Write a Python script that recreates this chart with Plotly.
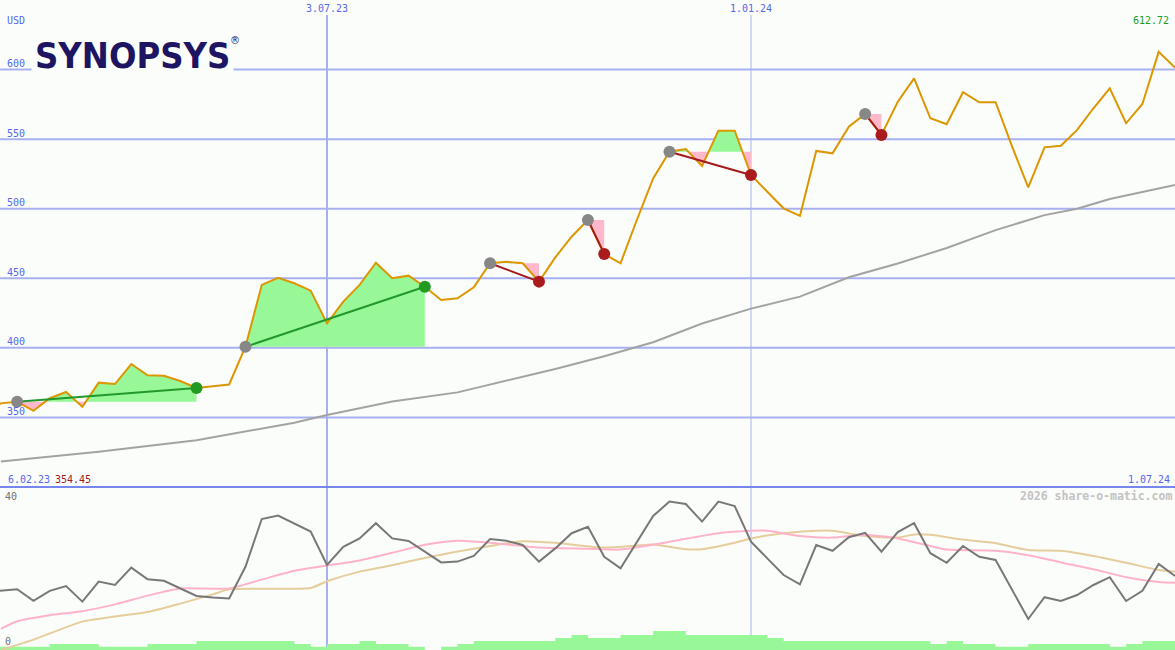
import pandas as pd
import plotly.graph_objects as go

# ---------------- data ----------------
weeks = pd.date_range("2023-02-06", periods=74, freq="7D")  # 6.02.23 ... 1.07.24

price = [354.45,
         360.1, 361.3, 354.8, 363.8, 368.3, 357.7, 375.0, 374.0, 388.4, 380.3,
         380.0, 376.2, 371.2, 372.4, 373.7, 400.8, 445.2, 450.4, 446.4, 441.1,
         417.6, 433.2, 445.2, 461.2, 450.0, 451.9, 443.9, 434.4, 435.6, 443.5,
         460.8, 461.9, 460.8, 447.6, 465.0, 479.9, 491.9, 467.5, 460.8, 491.9,
         521.8, 541.0, 542.9, 530.7, 556.1, 556.1, 524.2, 512.2, 500.3, 494.8,
         541.5, 539.8, 558.9, 568.1, 553.0, 576.9, 593.7, 565.0, 560.7, 583.7,
         576.5, 576.5, 545.0, 515.4, 544.1, 545.3, 556.6, 572.2, 586.5, 561.4,
         575.3, 612.72, 601.4]

# long moving average (grey), read at selected weeks (index into weeks)
ma_idx = [1, 7, 13, 19, 21, 25, 29, 32, 35, 38, 41, 44, 47, 50, 53, 56, 59, 62, 65, 67, 69, 73]
ma_val = [318.3, 325.3, 333.6, 346.2, 351.7, 361.5, 368.0, 376.5, 384.8, 394.0, 404.0,
          417.5, 428.2, 436.8, 450.7, 460.6, 471.8, 484.6, 495.4, 500.0, 507.0, 517.0]

# trades: (entry week index, exit week index, win?)
trade_in = [2, 16, 31, 37, 42, 54]
trade_out = [13, 27, 34, 38, 47, 55]
trade_win = [True, True, False, False, False, False]

# lower panel
osc = [14.5,
       14.8, 15.2, 12.3, 14.8, 16.0, 12.1, 17.1, 16.25, 20.6, 17.7,
       17.3, 15.4, 13.5, 13.1, 12.9, 20.8, 32.75, 33.6, 31.7, 29.6,
       21.25, 25.8, 27.9, 31.7, 27.9, 27.25, 24.6, 21.9, 22.1, 23.5,
       27.75, 27.3, 26.25, 22.1, 25.4, 29.2, 30.8, 23.3, 20.4, 27.1,
       33.5, 37.1, 36.5, 32.1, 37.1, 36.0, 27.1, 22.9, 18.75, 16.4,
       26.25, 24.8, 28.2, 29.3, 24.6, 29.5, 31.7, 24.2, 21.8, 26.0,
       23.3, 22.5, 15.0, 7.75, 13.2, 12.25, 13.75, 16.25, 18.2, 12.25,
       14.8, 21.5, 18.5]

pink_idx = [1, 2, 4, 6, 8, 10, 12, 15, 17, 19, 21, 23, 25, 27, 29, 31, 34, 37, 39, 41,
            43, 45, 47, 48, 50, 52, 54, 56, 58, 59, 62, 64, 66, 68, 70, 72, 73]
pink_val = [5.3, 7.2, 8.7, 9.7, 11.4, 13.6, 15.4, 15.4, 17.6, 19.8, 21.1, 22.4, 24.3, 26.3,
            27.3, 26.8, 25.6, 25.3, 25.1, 26.3, 27.8, 29.2, 29.8, 29.8, 28.5, 28.1, 28.75,
            27.9, 26.0, 25.1, 24.8, 23.7, 21.9, 20.2, 18.2, 17.0, 16.8]

tan_idx = [1, 3, 6, 8, 10, 12, 14, 15, 20, 21, 23, 25, 27, 29, 31, 33, 35, 38, 40, 41,
           43, 44, 46, 47, 49, 51, 52, 54, 56, 57, 58, 60, 62, 64, 66, 68, 70, 72, 73]
tan_val = [0.0, 2.6, 7.1, 8.4, 9.5, 11.6, 13.9, 15.2, 15.5, 17.2, 19.6, 21.2, 23.0, 24.6,
           26.0, 27.2, 26.8, 25.6, 26.1, 26.4, 25.2, 25.2, 26.8, 27.9, 29.2, 29.8, 29.8,
           28.5, 28.1, 28.9, 28.8, 27.6, 26.7, 25.0, 24.8, 23.5, 21.8, 20.0, 19.6]

vol = [0.8,
       0.8, 0.8, 0.8, 1.5, 1.5, 1.5, 0.8, 0.8, 0.8, 1.5,
       1.5, 1.5, 2.25, 2.25, 2.25, 2.25, 2.25, 2.25, 1.5, 0.8,
       1.5, 1.5, 2.25, 1.5, 1.5, 0.8, 0.0, 0.8, 1.5, 2.25,
       2.25, 2.25, 2.25, 2.25, 3.0, 3.75, 3.0, 3.0, 3.75, 3.75,
       4.75, 4.75, 3.75, 3.75, 3.75, 3.75, 3.75, 3.0, 2.25, 2.25,
       2.25, 2.25, 2.25, 2.25, 2.25, 2.25, 2.25, 1.5, 2.25, 1.5,
       1.5, 0.8, 0.8, 1.5, 1.5, 1.5, 1.5, 1.5, 0.8, 1.5,
       2.25, 2.25, 2.25]

first_label = "6.02.23"
first_price = "354.45"
last_label = "1.07.24"
max_price = "612.72"
y_ticks = [350, 400, 450, 500, 550, 600]
v_dates = ["2023-07-03", "2024-01-01"]
v_labels = ["3.07.23", "1.01.24"]

# ---------------- style ----------------
W, H = 1175, 650
BG = "#fbfdfb"
GRID = "#a7b1f1"
BLUE_TXT = "#5468ee"
GREEN_F = "#98f898"
PINK_F = "#ffb8cc"
MONO = "DejaVu Sans Mono"


def py(y):
    return 1 - y / H


def px(x):
    return x / W


fig = go.Figure()

# trade fills
for a, b, win in zip(trade_in, trade_out, trade_win):
    base = price[a]
    xs, up, lo = [weeks[a]], [base], [base]
    for j in range(a, b):
        p0, p1 = price[j], price[j + 1]
        t0, t1 = weeks[j], weeks[j + 1]
        if (p0 - base) * (p1 - base) < 0:
            f = (base - p0) / (p1 - p0)
            xs.append(t0 + (t1 - t0) * f)
            up.append(base)
            lo.append(base)
        xs.append(t1)
        up.append(max(p1, base))
        lo.append(min(p1, base))
    fig.add_trace(go.Scatter(x=xs + xs[::-1], y=up + [base] * len(xs), fill="toself",
                             fillcolor=GREEN_F, line=dict(width=0), mode="lines",
                             hoverinfo="skip", showlegend=False))
    fig.add_trace(go.Scatter(x=xs + xs[::-1], y=lo + [base] * len(xs), fill="toself",
                             fillcolor=PINK_F, line=dict(width=0), mode="lines",
                             hoverinfo="skip", showlegend=False))

# moving average
fig.add_trace(go.Scatter(x=[weeks[i] for i in ma_idx], y=ma_val, mode="lines",
                         line=dict(color="#a3a3a3", width=2), showlegend=False))
# price
fig.add_trace(go.Scatter(x=weeks, y=price, mode="lines",
                         line=dict(color="#dc9600", width=2), showlegend=False))

# trade lines and dots
for a, b, win in zip(trade_in, trade_out, trade_win):
    col = "#22992a" if win else "#a31a1a"
    fig.add_trace(go.Scatter(x=[weeks[a], weeks[b]], y=[price[a], price[b]], mode="lines",
                             line=dict(color=col, width=2), showlegend=False))
for a, b, win in zip(trade_in, trade_out, trade_win):
    col = "#229a22" if win else "#aa1c1c"
    fig.add_trace(go.Scatter(x=[weeks[a]], y=[price[a]], mode="markers",
                             marker=dict(color="#878787", size=12), showlegend=False))
    fig.add_trace(go.Scatter(x=[weeks[b]], y=[price[b]], mode="markers",
                             marker=dict(color=col, size=12), showlegend=False))

# lower panel
fig.add_trace(go.Scatter(x=weeks, y=vol, mode="lines", line=dict(width=0, shape="hv"),
                         fill="tozeroy", fillcolor="#98f898", xaxis="x2", yaxis="y2",
                         showlegend=False))
fig.add_trace(go.Scatter(x=[weeks[i] for i in tan_idx], y=tan_val, mode="lines",
                         line=dict(color="#e6cd9c", width=2, shape="spline", smoothing=0.6),
                         xaxis="x2", yaxis="y2", showlegend=False))
fig.add_trace(go.Scatter(x=[weeks[i] for i in pink_idx], y=pink_val, mode="lines",
                         line=dict(color="#ffb3c9", width=2, shape="spline", smoothing=0.6),
                         xaxis="x2", yaxis="y2", showlegend=False))
fig.add_trace(go.Scatter(x=weeks, y=osc, mode="lines",
                         line=dict(color="#787878", width=2),
                         xaxis="x2", yaxis="y2", showlegend=False))

split = py(487)
xr = ["2023-02-12 15:21", "2024-07-01"]

shapes = []
for t in y_ticks:
    shapes.append(dict(type="line", xref="paper", yref="y", x0=0, x1=1, y0=t, y1=t,
                       line=dict(color=GRID, width=2), layer="below"))
shapes.append(dict(type="line", xref="x", yref="paper", x0=v_dates[0], x1=v_dates[0],
                   y0=0, y1=py(15), line=dict(color=GRID, width=2), layer="below"))
shapes.append(dict(type="line", xref="x", yref="paper", x0=v_dates[1], x1=v_dates[1],
                   y0=0, y1=py(15), line=dict(color=GRID, width=1), layer="below"))
shapes.append(dict(type="line", xref="paper", yref="paper", x0=0, x1=1, y0=split, y1=split,
                   line=dict(color="#7686ec", width=2), layer="above"))

ann = []
for t in y_ticks:
    ann.append(dict(xref="paper", yref="y", x=px(5), y=t, text=str(t), showarrow=False,
                    xanchor="left", yanchor="middle", yshift=6,
                    font=dict(family=MONO, size=10, color=BLUE_TXT)))
ann.append(dict(xref="paper", yref="paper", x=px(5), y=py(20), text="USD", showarrow=False,
                xanchor="left", yanchor="middle", font=dict(family=MONO, size=10, color=BLUE_TXT)))
for d, lab in zip(v_dates, v_labels):
    ann.append(dict(xref="x", yref="paper", x=d, y=py(8), text=lab, showarrow=False,
                    xanchor="center", yanchor="middle",
                    font=dict(family=MONO, size=10, color=BLUE_TXT)))
ann.append(dict(xref="paper", yref="paper", x=px(6), y=py(479), text=first_label, showarrow=False,
                xanchor="left", yanchor="middle", font=dict(family=MONO, size=10, color=BLUE_TXT)))
ann.append(dict(xref="paper", yref="paper", x=px(53), y=py(479), text=first_price, showarrow=False,
                xanchor="left", yanchor="middle", font=dict(family=MONO, size=10, color="#a31a1a")))
ann.append(dict(xref="paper", yref="paper", x=px(1172), y=py(479), text=last_label, showarrow=False,
                xanchor="right", yanchor="middle", font=dict(family=MONO, size=10, color=BLUE_TXT)))
ann.append(dict(xref="paper", yref="paper", x=px(1171), y=py(20), text=max_price, showarrow=False,
                xanchor="right", yanchor="middle", font=dict(family=MONO, size=10, color="#229a22")))
ann.append(dict(xref="paper", yref="paper", x=px(1174), y=py(496), text="2026 share-o-matic.com",
                showarrow=False, xanchor="right", yanchor="middle",
                font=dict(family=MONO, size=11.5, color="#c3c3c3", weight="bold")))
ann.append(dict(xref="paper", yref="paper", x=px(3), y=py(496), text="40", showarrow=False,
                xanchor="left", yanchor="middle", font=dict(family=MONO, size=10, color="#707070")))
ann.append(dict(xref="paper", yref="paper", x=px(3), y=py(641), text="0", showarrow=False,
                xanchor="left", yanchor="middle", font=dict(family=MONO, size=10, color="#707070")))
# logo
ann.append(dict(xref="paper", yref="paper", x=px(31), y=py(56), text="SYNOPSYS",
                showarrow=False, xanchor="left", yanchor="middle", bgcolor=BG, borderpad=3,
                font=dict(family="DejaVu Sans Condensed, DejaVu Sans, sans-serif",
                          size=36, color="#1e1562", weight="bold")))
ann.append(dict(xref="paper", yref="paper", x=px(228), y=py(40), text="®",
                showarrow=False, xanchor="left", yanchor="middle",
                font=dict(family="DejaVu Sans", size=10, color="#1e1562")))

fig.update_layout(
    width=W, height=H, margin=dict(l=0, r=0, t=0, b=0),
    paper_bgcolor=BG, plot_bgcolor=BG,
    xaxis=dict(range=xr, visible=False, domain=[0, 1], anchor="y"),
    xaxis2=dict(range=xr, visible=False, domain=[0, 1], anchor="y2", matches="x"),
    yaxis=dict(range=[300, 650], visible=False, domain=[split, 1]),
    yaxis2=dict(range=[0, 40.75], visible=False, domain=[0, split]),
    shapes=shapes, annotations=ann, showlegend=False, hovermode=False,
)

fig.write_html("out.html", config={"displayModeBar": False},
               post_script="document.body.style.margin='0px';document.body.style.padding='0px';")
